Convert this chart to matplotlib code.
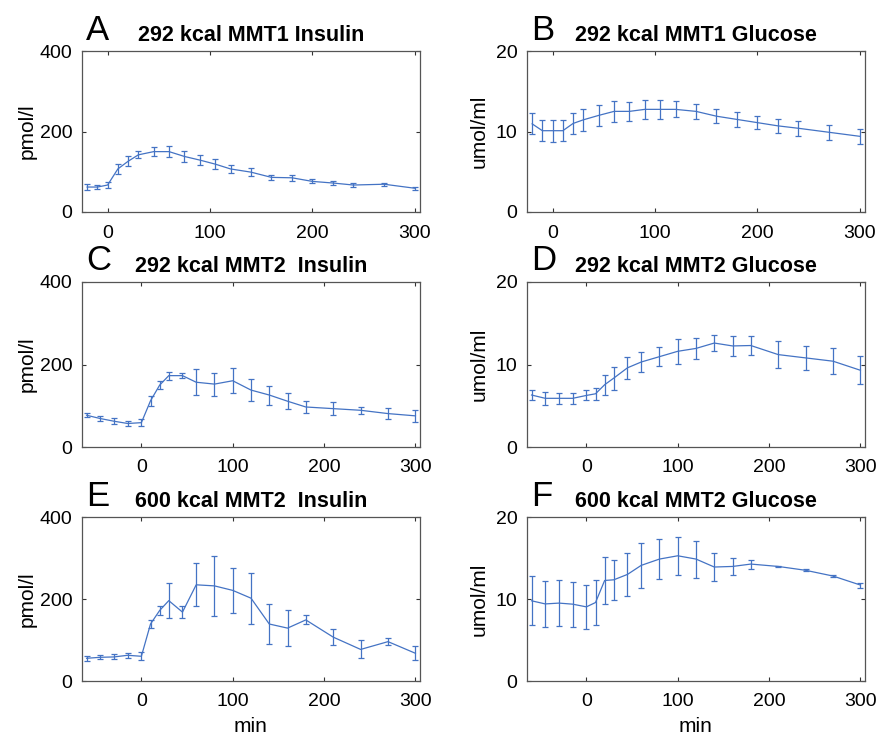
import numpy as np
import matplotlib
matplotlib.use("Agg")
import matplotlib.pyplot as plt

plt.rcParams['font.family'] = ['Liberation Sans', 'DejaVu Sans']

# sampling times (min)
t_mmt1 = [-20, -10, 0, 10, 20, 30, 45, 60, 75, 90, 105, 120, 140, 160, 180, 200, 220, 240, 270, 300]
t_mmt2 = [-60, -45, -30, -15, 0, 10, 20, 30, 45, 60, 80, 100, 120, 140, 160, 180, 210, 240, 270, 300]

# A: 292 kcal MMT1 insulin
ins_a = [62, 62, 67, 107, 126, 142, 150, 150, 138, 129, 119, 107, 99, 86, 85, 76, 72, 67, 69, 59]
ins_a_err = [6.5, 6, 7, 12, 12, 9, 12, 14, 14, 13, 12, 10, 10, 7, 7, 5, 6, 5, 4, 4]
# B: 292 kcal MMT1 glucose
glu_b = [10.95, 10.1, 10.1, 10.1, 11.0, 11.45, 12.0, 12.5, 12.5, 12.75, 12.75, 12.75, 12.5, 11.9, 11.5, 11.1, 10.7, 10.4, 9.9, 9.4]
glu_b_err = [1.3, 1.3, 1.35, 1.3, 1.35, 1.4, 1.35, 1.3, 1.15, 1.15, 1.15, 1.0, 0.95, 0.85, 0.9, 0.85, 0.85, 0.9, 0.9, 0.95]
# C: 292 kcal MMT2 insulin
ins_c = [77, 69, 62.5, 57, 59, 112, 150, 173, 173, 157, 152.5, 160.6, 138, 126, 111, 97, 93, 89, 81, 75.5]
ins_c_err = [5, 6, 7, 5, 9, 12, 9, 10, 6, 31, 28, 30, 27, 23, 20, 15, 15, 8, 14, 15]
# D: 292 kcal MMT2 glucose
glu_d = [6.3, 5.9, 5.9, 5.9, 6.25, 6.45, 7.55, 8.35, 9.6, 10.3, 10.95, 11.6, 11.95, 12.6, 12.25, 12.3, 11.2, 10.8, 10.4, 9.3]
glu_d_err = [0.6, 0.75, 0.7, 0.65, 0.6, 0.7, 1.2, 1.4, 1.3, 1.25, 1.15, 1.5, 1.3, 1.0, 1.25, 1.2, 1.65, 1.45, 1.55, 1.7]
# E: 600 kcal MMT2 insulin
ins_e = [55.4, 57.8, 58.7, 62.7, 60.3, 139, 172, 196, 168, 234.6, 232, 221, 202, 139, 129, 149, 107, 77, 96, 67.6]
ins_e_err = [6.5, 5, 6, 6, 9.5, 10, 12, 43, 15, 52, 74, 55, 62, 48, 43, 11, 19, 22, 8, 17]
# F: 600 kcal MMT2 glucose
glu_f = [9.78, 9.4, 9.5, 9.37, 9.04, 9.57, 12.26, 12.34, 13.0, 14.1, 14.87, 15.27, 14.87, 13.9, 13.97, 14.26, 13.97, 13.5, 12.8, 11.7]
glu_f_err = [3.0, 2.85, 2.8, 2.75, 2.7, 2.75, 2.85, 2.45, 2.6, 2.7, 2.4, 2.3, 2.25, 1.7, 1.0, 0.55, 0.05, 0.1, 0.1, 0.3]

panels = [
    ('A', '292 kcal MMT1 Insulin', t_mmt1, ins_a, ins_a_err, 'pmol/l', 400),
    ('B', '292 kcal MMT1 Glucose', t_mmt1, glu_b, glu_b_err, 'umol/ml', 20),
    ('C', '292 kcal MMT2  Insulin', t_mmt2, ins_c, ins_c_err, 'pmol/l', 400),
    ('D', '292 kcal MMT2 Glucose', t_mmt2, glu_d, glu_d_err, 'umol/ml', 20),
    ('E', '600 kcal MMT2  Insulin', t_mmt2, ins_e, ins_e_err, 'pmol/l', 400),
    ('F', '600 kcal MMT2 Glucose', t_mmt2, glu_f, glu_f_err, 'umol/ml', 20),
]

W, H = 877, 739
fig = plt.figure(figsize=(W / 100, H / 100), dpi=100)

lefts = [82, 527]
rows = [(51, 212), (282, 447), (517, 681)]
col = '#4473c4'

for i, (letter, title, t, y, e, ylab, ymax) in enumerate(panels):
    r, c = divmod(i, 2)
    top, bot = rows[r]
    l = lefts[c]
    ax = fig.add_axes([l / W, (H - bot) / H, 338 / W, (bot - top) / H])
    ax.errorbar(t, y, yerr=e, color=col, lw=0.9, elinewidth=0.9, capsize=2.5, capthick=0.9)
    if t[0] == -20:
        ax.set_xlim(-25, 305)
    else:
        ax.set_xlim(-65, 305)
    ax.set_ylim(0, ymax)
    ax.set_xticks([0, 100, 200, 300])
    ax.set_yticks([0, ymax / 2, ymax])
    ax.set_yticklabels([str(int(v)) for v in [0, ymax / 2, ymax]])
    ax.tick_params(direction='in', length=3, width=0.8, top=True, right=True,
                   labelsize=14, colors='#333333', labelcolor='black')
    ax.tick_params(axis='x', pad=9)
    ax.tick_params(axis='y', pad=7)
    for s in ax.spines.values():
        s.set_color('#555555')
        s.set_linewidth(0.9)
    ax.set_ylabel(ylab, fontsize=15, labelpad=2 if ymax == 400 else 5)
    ax.set_title(title, fontsize=15.5, fontweight='bold', pad=7)
    ax.text(0.012, 1.07, letter, transform=ax.transAxes, fontsize=25, va='baseline', ha='left')
    if r == 2:
        ax.set_xlabel('min', fontsize=15, labelpad=5)

fig.savefig('out.png', dpi=100)
